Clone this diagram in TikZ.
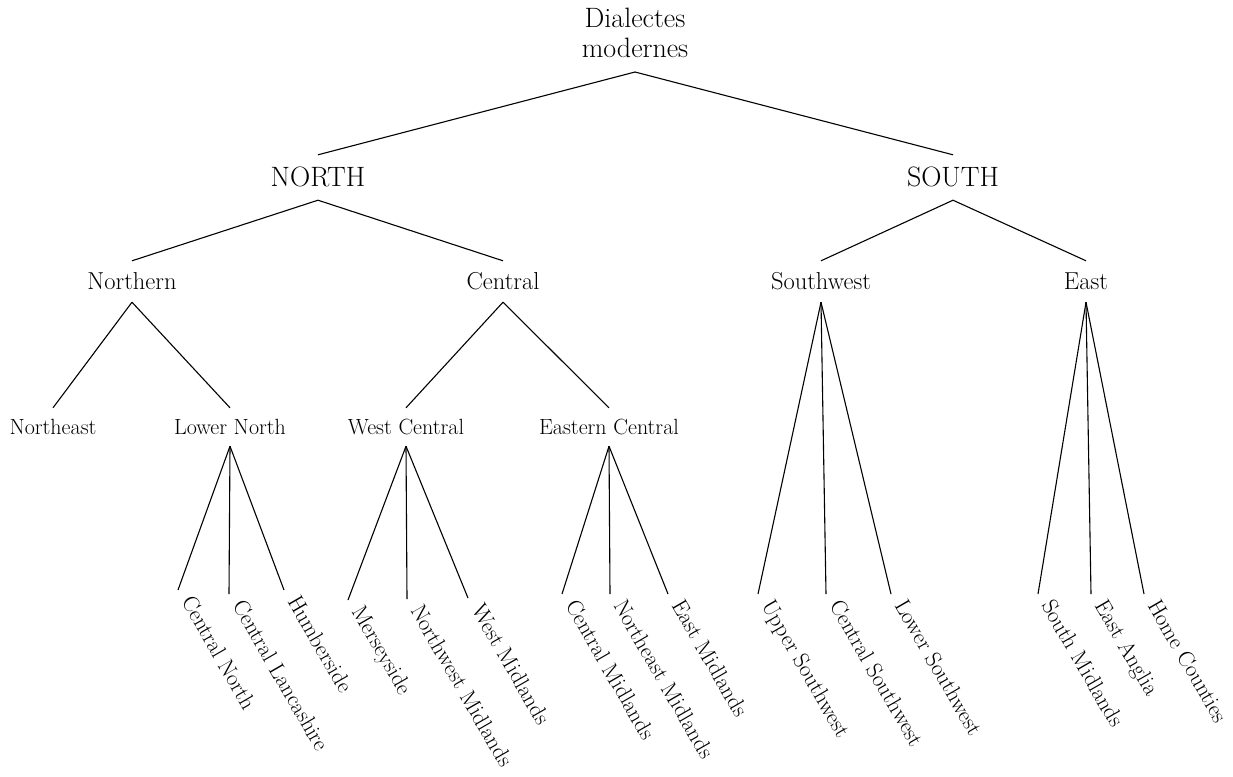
\documentclass[tikz,border=0pt]{standalone}
\usepackage{fontspec}
\begin{document}
\begin{tikzpicture}[x=1pt,y=-1pt,
  lvA/.style={font=\fontsize{28}{30}\selectfont, text height=17pt, text depth=0pt, inner xsep=2pt, inner ysep=14pt, anchor=base},
  lvB/.style={font=\fontsize{24.5}{28}\selectfont, text height=15pt, text depth=0pt, inner xsep=2pt, inner ysep=13pt, anchor=base},
  lvC/.style={font=\fontsize{22}{26}\selectfont, text height=14pt, text depth=0pt, inner xsep=2pt, inner ysep=12pt, anchor=base},
  leaf/.style={font=\fontsize{22.5}{26}\selectfont, rotate=-60, anchor=west, text height=15pt, text depth=9pt, inner xsep=11pt, inner ysep=0pt},
  edge/.style={draw=black, line width=1.1pt}]
\useasboundingbox (0,0) rectangle (1233,776);

\node[font=\fontsize{28}{30}\selectfont, align=center, text depth=0pt, inner ysep=14pt, anchor=south] (root) at (635,72) {Dialectes\\modernes};

\node[lvA] (north) at (318,186) {NORTH};
\node[lvA] (south) at (953,186) {SOUTH};

\node[lvB] (northern) at (132,289) {Northern};
\node[lvB] (central) at (503,289) {Central};
\node[lvB] (southwest) at (821,289) {Southwest};
\node[lvB] (east) at (1086,289) {East};

\node[lvC] (northeast) at (53,434) {Northeast};
\node[lvC] (lowernorth) at (230,434) {Lower North};
\node[lvC] (westcentral) at (406,434) {West Central};
\node[lvC] (easterncentral) at (609,434) {Eastern Central};

\node[leaf] (cnorth) at (178,590) {Central North};
\node[leaf] (clanc) at (229,594) {Central Lancashire};
\node[leaf] (humber) at (284,590) {Humberside};

\node[leaf] (mersey) at (348,600) {Merseyside};
\node[leaf] (nwmid) at (407,599) {Northwest Midlands};
\node[leaf] (wmid) at (468,598) {West Midlands};

\node[leaf] (cmid) at (562,594) {Central Midlands};
\node[leaf] (nemid) at (610,594) {Northeast Midlands};
\node[leaf] (emid) at (668,594) {East Midlands};

\node[leaf] (usw) at (758,594) {Upper Southwest};
\node[leaf] (csw) at (826,594) {Central Southwest};
\node[leaf] (lsw) at (891,594) {Lower Southwest};

\node[leaf] (smid) at (1038,594) {South Midlands};
\node[leaf] (eang) at (1091,594) {East Anglia};
\node[leaf] (homec) at (1144,594) {Home Counties};

\draw[edge] (root.south) -- (north.north);
\draw[edge] (root.south) -- (south.north);
\draw[edge] (north.south) -- (northern.north);
\draw[edge] (north.south) -- (central.north);
\draw[edge] (south.south) -- (southwest.north);
\draw[edge] (south.south) -- (east.north);
\draw[edge] (northern.south) -- (northeast.north);
\draw[edge] (northern.south) -- (lowernorth.north);
\draw[edge] (central.south) -- (westcentral.north);
\draw[edge] (central.south) -- (easterncentral.north);
\draw[edge] (lowernorth.south) -- (cnorth.west);
\draw[edge] (lowernorth.south) -- (clanc.west);
\draw[edge] (lowernorth.south) -- (humber.west);
\draw[edge] (westcentral.south) -- (mersey.west);
\draw[edge] (westcentral.south) -- (nwmid.west);
\draw[edge] (westcentral.south) -- (wmid.west);
\draw[edge] (easterncentral.south) -- (cmid.west);
\draw[edge] (easterncentral.south) -- (nemid.west);
\draw[edge] (easterncentral.south) -- (emid.west);
\draw[edge] (southwest.south) -- (usw.west);
\draw[edge] (southwest.south) -- (csw.west);
\draw[edge] (southwest.south) -- (lsw.west);
\draw[edge] (east.south) -- (smid.west);
\draw[edge] (east.south) -- (eang.west);
\draw[edge] (east.south) -- (homec.west);
\end{tikzpicture}
\end{document}
